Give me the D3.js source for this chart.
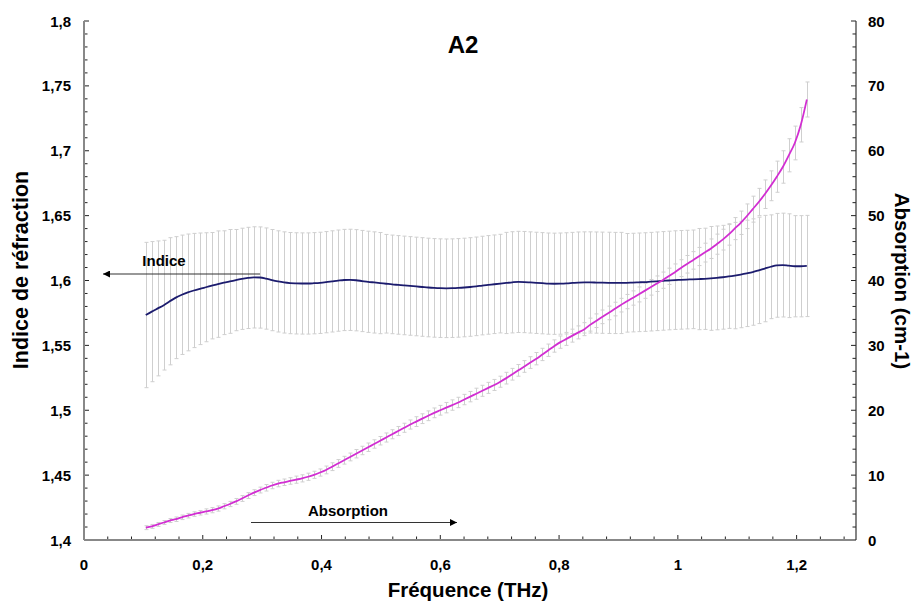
<!DOCTYPE html>
<html><head><meta charset="utf-8">
<script src="https://cdn.jsdelivr.net/npm/d3@7"></script>
<style>body{margin:0;background:#fff}svg{display:block}text{font-family:Arial,"Liberation Sans",sans-serif}</style>
</head><body>
<svg id="c" width="918" height="604"></svg>
<script>
// ---- data ----
const freqStart = 0.104, freqStep = 0.01012;
const indice = [1.5734,1.5760,1.5785,1.5810,1.5840,1.5868,1.5890,1.5908,1.5923,1.5936,
1.5948,1.5960,1.5972,1.5983,1.5993,1.6003,1.6013,1.6020,1.6024,1.6023,
1.6015,1.6003,1.5993,1.5985,1.5980,1.5978,1.5977,1.5977,1.5979,1.5982,
1.5987,1.5993,1.5999,1.6004,1.6005,1.6002,1.5996,1.5990,1.5985,1.5980,
1.5975,1.5970,1.5966,1.5962,1.5958,1.5954,1.5950,1.5946,1.5943,1.5941,
1.5940,1.5941,1.5943,1.5946,1.5950,1.5955,1.5961,1.5966,1.5971,1.5976,
1.5981,1.5986,1.5989,1.5988,1.5985,1.5982,1.5979,1.5976,1.5975,1.5976,
1.5978,1.5981,1.5984,1.5985,1.5985,1.5984,1.5983,1.5982,1.5981,1.5981,
1.5982,1.5984,1.5986,1.5988,1.5991,1.5994,1.5997,1.6000,1.6003,1.6005,
1.6007,1.6009,1.6011,1.6013,1.6016,1.6020,1.6025,1.6031,1.6038,1.6046,
1.6055,1.6065,1.6078,1.6092,1.6106,1.6117,1.6119,1.6114,1.6110,1.6110,1.6112];
const indiceErr = [0.056,0.054,0.052,0.050,0.049,0.047,0.046,0.045,0.044,0.043,
0.042,0.041,0.041,0.040,0.040,0.039,0.039,0.039,0.039,0.039,
0.039,0.039,0.039,0.039,0.039,0.039,0.039,0.039,0.039,0.039,
0.039,0.039,0.039,0.039,0.039,0.039,0.039,0.039,0.039,0.039,
0.038,0.038,0.038,0.038,0.038,0.038,0.038,0.038,0.038,0.038,
0.038,0.038,0.038,0.038,0.038,0.038,0.038,0.038,0.038,0.038,
0.039,0.039,0.039,0.039,0.039,0.039,0.039,0.039,0.039,0.039,
0.039,0.039,0.039,0.039,0.039,0.039,0.039,0.039,0.039,0.039,
0.038,0.038,0.038,0.038,0.038,0.038,0.038,0.038,0.038,0.038,
0.038,0.038,0.039,0.039,0.040,0.040,0.040,0.040,0.041,0.041,
0.041,0.041,0.041,0.041,0.040,0.040,0.040,0.040,0.039,0.039,0.039];
const absorption = [1.9,2.1,2.4,2.7,3.0,3.2,3.5,3.75,4.0,4.2,
4.4,4.6,4.85,5.2,5.55,5.95,6.4,6.85,7.3,7.7,
8.05,8.4,8.7,8.9,9.1,9.3,9.5,9.75,10.05,10.4,
10.8,11.3,11.8,12.3,12.8,13.3,13.8,14.3,14.8,15.3,
15.8,16.3,16.8,17.3,17.8,18.25,18.7,19.15,19.6,20.0,
20.4,20.8,21.2,21.65,22.1,22.55,23.0,23.45,23.9,24.4,
24.95,25.55,26.15,26.75,27.35,27.95,28.6,29.25,29.9,30.5,
31.0,31.5,32.0,32.5,33.2,33.8,34.4,35.0,35.6,36.2,
36.75,37.3,37.85,38.4,38.95,39.5,40.05,40.65,41.25,41.9,
42.5,43.1,43.7,44.3,44.9,45.6,46.3,47.1,48.0,48.9,
49.9,51.0,52.1,53.3,54.6,56.0,57.5,59.3,61.2,64.0,67.9];
const absorptionErr = [0.3,0.3,0.3,0.3,0.3,0.35,0.35,0.35,0.35,0.35,
0.4,0.4,0.4,0.4,0.4,0.45,0.45,0.45,0.45,0.45,
0.5,0.5,0.5,0.5,0.5,0.55,0.55,0.55,0.55,0.55,
0.6,0.6,0.6,0.6,0.6,0.65,0.65,0.65,0.65,0.65,
0.7,0.7,0.7,0.7,0.7,0.75,0.75,0.75,0.75,0.75,
0.8,0.8,0.8,0.8,0.8,0.85,0.85,0.85,0.85,0.85,
0.9,0.9,0.9,0.9,0.9,0.95,0.95,0.95,0.95,0.95,
1.0,1.0,1.0,1.0,1.0,1.05,1.05,1.05,1.05,1.05,
1.1,1.1,1.15,1.15,1.2,1.2,1.25,1.25,1.3,1.3,
1.35,1.35,1.4,1.45,1.5,1.55,1.6,1.65,1.7,1.8,
1.9,2.0,2.1,2.2,2.3,2.4,2.5,2.55,2.6,2.65,2.7];
const xTicks = [0,0.2,0.4,0.6,0.8,1,1.2];
const yLeftTicks = [1.4,1.45,1.5,1.55,1.6,1.65,1.7,1.75,1.8];
const yRightTicks = [0,10,20,30,40,50,60,70,80];
const title = "A2", xTitle = "Fréquence (THz)", yLeftTitle = "Indice de réfraction", yRightTitle = "Absorption (cm-1)";

const freq = indice.map((_, i) => freqStart + i * freqStep);
const pts = freq.map((f, i) => ({f, n: indice[i], ne: indiceErr[i], a: absorption[i], ae: absorptionErr[i]}));

// ---- layout ----
const L = 84, R = 856, T = 21, B = 540;
const svg = d3.select("#c");
const x = d3.scaleLinear().domain([0, 1.3]).range([L, R]);
const yl = d3.scaleLinear().domain([1.4, 1.8]).range([B, T]);
const yr = d3.scaleLinear().domain([0, 80]).range([B, T]);
const fmt = v => String(+v.toFixed(2)).replace(".", ",");
const FS = 15;

const g = svg.append("g");
d3.range(0, 1.3001, 0.04).forEach(v => {
  const major = xTicks.some(t => Math.abs(t - v) < 1e-6);
  g.append("line").attr("x1", x(v)).attr("x2", x(v)).attr("y1", B).attr("y2", B - (major ? 5 : 3.5)).attr("stroke", "#222");
});
d3.range(1.4, 1.8001, 0.01).forEach(v => {
  const major = yLeftTicks.some(t => Math.abs(t - v) < 1e-6);
  g.append("line").attr("x1", L).attr("x2", L + (major ? 5 : 3.5)).attr("y1", yl(v)).attr("y2", yl(v)).attr("stroke", "#222");
});
d3.range(0, 80.001, 2).forEach(v => {
  const major = yRightTicks.some(t => Math.abs(t - v) < 1e-6);
  g.append("line").attr("x1", R).attr("x2", R - (major ? 5 : 3.5)).attr("y1", yr(v)).attr("y2", yr(v)).attr("stroke", "#222");
});
g.append("line").attr("x1", L).attr("x2", L).attr("y1", T).attr("y2", B).attr("stroke", "#888").attr("stroke-width", 2);
g.append("line").attr("x1", L).attr("x2", R).attr("y1", B).attr("y2", B).attr("stroke", "#888").attr("stroke-width", 2);
g.append("line").attr("x1", R).attr("x2", R).attr("y1", T).attr("y2", B).attr("stroke", "#333").attr("stroke-width", 1.2);

svg.append("g").selectAll("text").data(xTicks).join("text")
  .attr("x", d => x(d)).attr("y", 570).attr("text-anchor", "middle")
  .attr("font-size", FS).attr("font-weight", "bold").text(fmt);
svg.append("g").selectAll("text").data(yLeftTicks).join("text")
  .attr("x", 71).attr("y", d => yl(d) + 5.5).attr("text-anchor", "end")
  .attr("font-size", FS).attr("font-weight", "bold").text(fmt);
svg.append("g").selectAll("text").data(yRightTicks).join("text")
  .attr("x", 868).attr("y", d => yr(d) + 5.5).attr("text-anchor", "start")
  .attr("font-size", FS).attr("font-weight", "bold").text(d => d);

const errCol = "#cfcfcf";
const eb = svg.append("g").attr("stroke", errCol).attr("stroke-width", 1).attr("fill", "none");
pts.forEach(p => {
  const xx = Math.round(x(p.f)) + 0.5;
  eb.append("line").attr("x1", xx).attr("x2", xx).attr("y1", yl(p.n - p.ne)).attr("y2", yl(p.n + p.ne));
  [p.n - p.ne, p.n + p.ne].forEach(v => eb.append("line").attr("x1", xx - 2).attr("x2", xx + 2).attr("y1", yl(v)).attr("y2", yl(v)));
  eb.append("line").attr("x1", xx).attr("x2", xx).attr("y1", yr(p.a - p.ae)).attr("y2", yr(p.a + p.ae));
  [p.a - p.ae, p.a + p.ae].forEach(v => eb.append("line").attr("x1", xx - 2).attr("x2", xx + 2).attr("y1", yr(v)).attr("y2", yr(v)));
});

svg.append("path").datum(pts).attr("fill", "none").attr("stroke", "#1c1c6e").attr("stroke-width", 1.8)
  .attr("d", d3.line().x(d => x(d.f)).y(d => yl(d.n)).curve(d3.curveMonotoneX));
svg.append("path").datum(pts).attr("fill", "none").attr("stroke", "#d22ed2").attr("stroke-width", 1.8)
  .attr("d", d3.line().x(d => x(d.f)).y(d => yr(d.a)).curve(d3.curveMonotoneX));

const defs = svg.append("defs");
defs.append("marker").attr("id", "ah").attr("viewBox", "0 0 10 10").attr("refX", 10).attr("refY", 5)
  .attr("markerWidth", 9).attr("markerHeight", 7).attr("markerUnits", "userSpaceOnUse").attr("orient", "auto")
  .append("path").attr("d", "M0,0L10,5L0,10Z").attr("fill", "#000");
svg.append("line").attr("x1", 260).attr("x2", 103).attr("y1", 274).attr("y2", 274).attr("stroke", "#333").attr("stroke-width", 1.2).attr("marker-end", "url(#ah)");
svg.append("text").attr("x", 164).attr("y", 266).attr("text-anchor", "middle").attr("font-size", 15).attr("font-weight", "bold").text("Indice");
svg.append("line").attr("x1", 251).attr("x2", 457).attr("y1", 522.5).attr("y2", 522.5).attr("stroke", "#333").attr("stroke-width", 1.2).attr("marker-end", "url(#ah)");
svg.append("text").attr("x", 348).attr("y", 516).attr("text-anchor", "middle").attr("font-size", 15).attr("font-weight", "bold").text("Absorption");

svg.append("text").attr("x", 463).attr("y", 53).attr("text-anchor", "middle").attr("font-size", 24).attr("font-weight", "bold").text(title);
svg.append("text").attr("x", 468).attr("y", 597).attr("text-anchor", "middle").attr("font-size", 20.5).attr("font-weight", "bold").text(xTitle);
svg.append("text").attr("transform", "translate(28,270) rotate(-90)").attr("text-anchor", "middle").attr("font-size", 21.5).attr("font-weight", "bold").text(yLeftTitle);
svg.append("text").attr("transform", "translate(895,281) rotate(90)").attr("text-anchor", "middle").attr("font-size", 20.5).attr("font-weight", "bold").text(yRightTitle);
</script>
</body></html>
